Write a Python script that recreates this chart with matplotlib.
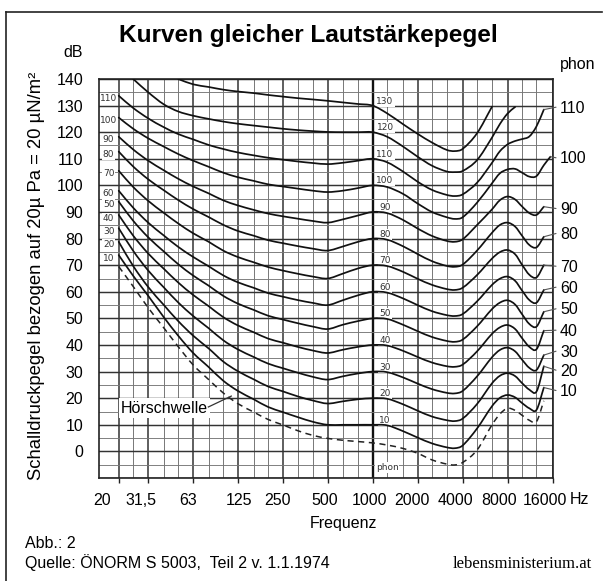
import numpy as np
import matplotlib
matplotlib.use("Agg")
import matplotlib.pyplot as plt
from matplotlib.transforms import Affine2D, ScaledTranslation
from matplotlib.lines import Line2D
from matplotlib.path import Path
from matplotlib.patches import PathPatch
from matplotlib.ticker import NullLocator, NullFormatter

plt.rcParams['font.family'] = ['Liberation Sans', 'DejaVu Sans']

nan = np.nan

# ---------------- data ----------------
FREQ_HZ = [20, 25, 31.5, 40, 50, 63, 80, 100, 125, 160, 200, 250, 315, 400, 500,
           630, 800, 1000, 1250, 1600, 2000, 2500, 3150, 3550, 4000, 5000, 6300, 7100,
           8000, 9000, 10000, 11200, 12500, 14000, 15500]

PHON_LEVELS = [130, 120, 110, 100, 90, 80, 70, 60, 50, 40, 30, 20, 10]

SPL_130 = [nan, nan, nan, nan, 140, 138, 137, 136, 135.3, 134.7, 134, 133.4, 132.8, 132.3, 131.8,
           131.2, 130.6, 130, 127.1, 123, 119.4, 116.1, 113.3, 112.9, 113.7, 119.6, 129.6, nan,
           nan, nan, nan, nan, nan, nan, nan]
SPL_120 = [nan, 140, 135, 130.5, 127.8, 126.2, 125, 124, 123.2, 122.5, 121.9, 121.3, 120.8, 120.4, 120.1,
           120, 120, 120, 118.3, 114.6, 110.8, 107.4, 105.2, 105, 105.4, 109.5, 118, 123,
           127, 129.5, nan, nan, nan, nan, nan]
SPL_110 = [133.7, 129.1, 125.2, 121.9, 119.3, 117.3, 115.2, 113.7, 112.4, 111.3, 110.4, 109.7, 109, 108.4, 108,
           108.5, 109.3, 110, 108.7, 105.2, 101.4, 98.3, 96.4, 96, 96.6, 101, 108.5, 112.8,
           115.4, 116.7, 117.4, 118.4, 122.2, 128.5, nan]
SPL_100 = [125.5, 121.3, 117.7, 114.6, 111.8, 109.3, 107, 104.8, 103.1, 101.7, 100.4, 99.6, 98.8, 98, 97.5,
           98, 99, 100, 99.4, 96.8, 93.2, 90, 88, 87.4, 88, 93.5, 100.8, 104.5,
           106, 106.2, 104.8, 103.3, 103.5, 107.6, 110.8]
SPL_90 = [118.3, 113.5, 109.3, 105.7, 102.5, 99.6, 97, 94.4, 92.5, 90.8, 89.4, 88.4, 87.5, 86.6, 86,
          87.2, 88.7, 90, 89.6, 87, 83.8, 81, 79.1, 78.8, 79.7, 85.1, 91, 94.4,
          95.8, 94.7, 92.1, 89.6, 88.9, 92, nan]
SPL_80 = [112.7, 107.1, 102.3, 98.2, 94.5, 91.1, 88.1, 85.2, 82.9, 81.1, 79.4, 78.3, 77.2, 76.2, 75.5,
          77, 78.8, 80, 79.6, 77.1, 74.2, 71.5, 69.7, 69.4, 70.2, 75.5, 82.2, 85.1,
          86, 84.5, 81.1, 77.6, 76.7, 80.7, nan]
SPL_70 = [105.5, 99.4, 94.2, 89.7, 85.7, 82, 78.8, 75.5, 73.1, 71.1, 69.3, 68, 66.8, 65.7, 65,
          66.8, 68.8, 70, 69.7, 67.5, 64.9, 62.6, 61, 60.7, 61.5, 66.3, 72.5, 74.9,
          75.7, 74.1, 70.2, 66.4, 65.4, 70, nan]
SPL_60 = [98, 91.6, 86, 81.2, 76.9, 73.1, 69.6, 66.2, 63.6, 61.5, 59.5, 58.2, 56.9, 55.8, 55,
          56.8, 58.7, 60, 59.7, 57.5, 55, 52.7, 51.2, 50.9, 51.6, 56.4, 62.6, 64.9,
          65.7, 64.1, 60.5, 56.9, 55.9, 60.7, nan]
SPL_50 = [93.9, 86.7, 80.5, 75.2, 70.4, 66.1, 62.3, 58.5, 55.6, 53.2, 51, 49.6, 48.2, 46.9, 46,
          47.6, 49, 50, 49.8, 47.6, 45.2, 43, 41.5, 41.2, 42, 47, 53.5, 55.9,
          56.8, 55.2, 51.6, 47.9, 46.9, 52.5, nan]
SPL_40 = [88.9, 81.1, 74.4, 68.7, 63.5, 58.8, 54.6, 50.5, 47.4, 44.8, 42.4, 40.9, 39.3, 37.9, 37,
          38.2, 39.3, 40, 39.8, 37.8, 35.5, 33.4, 32, 31.8, 32.6, 37.6, 44.2, 46.6,
          47.5, 46, 42.6, 39.3, 38.4, 45.4, nan]
SPL_30 = [83.9, 75.4, 68, 61.7, 56, 50.9, 46.3, 41.8, 38.4, 35.5, 33, 31.3, 29.6, 28, 27,
          28.2, 29.3, 30, 29.8, 27.8, 25.5, 23.4, 22, 21.8, 22.7, 28.2, 35.4, 38.1,
          39, 37.6, 34.5, 31.4, 30.6, 36.2, nan]
SPL_20 = [78.8, 69.7, 61.8, 55.1, 49, 43.5, 38.7, 33.8, 30.2, 27.1, 24.4, 22.6, 20.7, 19.1, 18,
          18.8, 19.6, 20, 19.8, 17.7, 15.3, 13.1, 11.7, 11.4, 12.3, 17.8, 25.6, 28.4,
          29.4, 28.3, 25.7, 23.2, 22.5, 32, nan]
SPL_10 = [73.8, 66, 58.5, 50.5, 43.5, 37, 31.7, 26.6, 22.8, 19.6, 16.7, 14.8, 12.9, 11.1, 10,
          10, 10, 10, 9.8, 7.6, 5.2, 3, 1.5, 1.2, 2.2, 8.6, 17, 20.1,
          21.2, 20.3, 18.2, 16.2, 15.6, 24, nan]
THRESHOLD = [69.5, 62, 54, 46.5, 39.4, 32.5, 27, 22, 18, 14.8, 12, 10, 7.8, 6, 4.9,
             4.2, 3.7, 3.2, 2.4, 1.1, -0.7, -3.2, -4.8, -5.1, -4.2, 0.5, 10, 14,
             16.2, 15.4, 13.6, 11.7, 11.2, 19, nan]

CURVES = [SPL_130, SPL_120, SPL_110, SPL_100, SPL_90, SPL_80, SPL_70,
          SPL_60, SPL_50, SPL_40, SPL_30, SPL_20, SPL_10]

X_TICKS = [20, 31.5, 63, 125, 250, 500, 1000, 2000, 4000, 8000, 16000]
X_TICK_LABELS = ['20', '31,5', '63', '125', '250', '500', '1000', '2000', '4000', '8000', '16000']
Y_TICKS = [0, 10, 20, 30, 40, 50, 60, 70, 80, 90, 100, 110, 120, 130, 140]
GRID_FREQS = [20, 25, 31.5, 40, 50, 63, 80, 100, 125, 160, 200, 250, 315, 400, 500, 630, 800,
              1000, 1250, 1600, 2000, 2500, 3150, 4000, 5000, 6300, 8000, 10000, 12500, 16000]
RIGHT_LABELS = [110, 100, 90, 80, 70, 60, 50, 40, 30, 20, 10]


def smooth_path(freqs, values):
    """Cubic (Hermite/Bezier) path through the read points, built in
    log-frequency space and drawn by matplotlib's Path."""
    f = np.asarray(freqs, float)
    v = np.asarray(values, float)
    ok = np.isfinite(v)
    u, y = np.log10(f[ok]), v[ok]
    n = len(u)
    m = np.zeros(n)
    for i in range(n):
        if i == 0:
            m[i] = (y[1] - y[0]) / (u[1] - u[0])
        elif i == n - 1:
            m[i] = (y[-1] - y[-2]) / (u[-1] - u[-2])
        else:
            m[i] = (y[i + 1] - y[i - 1]) / (u[i + 1] - u[i - 1])
    verts = [(u[0], y[0])]
    codes = [Path.MOVETO]
    for i in range(n - 1):
        h = u[i + 1] - u[i]
        verts += [(u[i] + h / 3, y[i] + m[i] * h / 3),
                  (u[i + 1] - h / 3, y[i + 1] - m[i + 1] * h / 3),
                  (u[i + 1], y[i + 1])]
        codes += [Path.CURVE4] * 3
    verts = np.array(verts)
    verts[:, 0] = 10 ** verts[:, 0]
    return Path(verts, codes)


# ---------------- layout ----------------
W, H, DPI = 603, 581, 100
fig = plt.figure(figsize=(W / DPI, H / DPI), dpi=DPI)
fig.patch.set_facecolor('white')
px = Affine2D().scale(1.0 / W, -1.0 / H).translate(0, 1) + fig.transFigure

L, R, T, B = 99, 552.5, 79, 478
ax = fig.add_axes([L / W, 1 - B / H, (R - L) / W, (B - T) / H])
ax.set_xscale('log')
ax.set_xlim(14.76, 16000)
ax.set_ylim(-10, 140)

# grid
for f in GRID_FREQS:
    if f == 1000:
        lw, col = 1.7, '#111111'
    elif f in X_TICKS:
        lw, col = 1.1, '#333333'
    else:
        lw, col = 0.65, '#6e6e6e'
    ax.axvline(f, color=col, lw=lw, zorder=1)
for v in range(-10, 141, 5):
    if v % 10 == 0:
        ax.axhline(v, color='#333333', lw=1.05, zorder=1)
    else:
        ax.axhline(v, color='#777777', lw=0.65, zorder=1)

for s in ax.spines.values():
    s.set_linewidth(1.2)
    s.set_color('#222222')

ax.set_xticks(X_TICKS)
ax.set_xticklabels(X_TICK_LABELS)
ax.xaxis.set_minor_locator(NullLocator())
ax.xaxis.set_minor_formatter(NullFormatter())
ax.set_yticks(Y_TICKS)
ax.set_yticklabels([str(v) for v in Y_TICKS])
ax.tick_params(axis='x', which='major', length=3.6, width=1.0, pad=7, labelsize=11.5,
               direction='out', color='#222222')
ax.tick_params(axis='y', which='major', length=0, pad=11.5, labelsize=11.5)

X_LABEL_SHIFT_PX = [-16.5, -7, -5, 1.5, -5.5, -2.5, -3.5, -5.5, -7.5, -8.5, -7.5]
for lab, dx in zip(ax.get_xticklabels(), X_LABEL_SHIFT_PX):
    lab.set_transform(lab.get_transform() + ScaledTranslation(dx / DPI, 0, fig.dpi_scale_trans))

# curves
for lvl, spl in zip(PHON_LEVELS, CURVES):
    ax.add_patch(PathPatch(smooth_path(FREQ_HZ, spl), fill=False, edgecolor='#111111',
                           lw=1.25, zorder=3, capstyle='round', joinstyle='round'))
ax.add_patch(PathPatch(smooth_path(FREQ_HZ, THRESHOLD), fill=False, edgecolor='#222222',
                       lw=1.1, ls=(0, (4, 3)), zorder=3))

small = dict(fontsize=6.5, family='DejaVu Sans', color='#333333', ha='center', va='center',
             zorder=2, bbox=dict(facecolor='white', edgecolor='none', pad=0.7))
# labels right of the 1000 Hz line
for lvl in PHON_LEVELS:
    ax.text(1212, lvl + 1.7, str(lvl), **small)
ax.text(1250, -6.1, 'phon', **small)
# labels at the left edge
for lvl, spl in zip(PHON_LEVELS, CURVES):
    if lvl <= 110:
        ax.text(17.1, spl[0] - 1.2, str(lvl), **small)

# Hörschwelle
ax.text(40.3, 16.3, 'Hörschwelle', fontsize=11.5, ha='center', va='center', zorder=4,
        bbox=dict(facecolor='white', edgecolor='none', pad=1.5))
ax.plot([79.6, 113.4], [16.7, 20.8], color='#333333', lw=0.9, zorder=4)

# right-hand phon labels with leaders
RIGHT_BASE_Y = [112.7, 163.3, 214, 239, 271.7, 292.7, 314.3, 335.7, 356.7, 375.7, 396]
for lvl, yb in zip(RIGHT_LABELS, RIGHT_BASE_Y):
    fig.text(560, yb, str(lvl), transform=px, fontsize=11.5, ha='left', va='baseline')
    spl = CURVES[PHON_LEVELS.index(lvl)]
    idx = 34 if lvl == 100 else 33
    ax.annotate('', xy=(FREQ_HZ[idx], spl[idx]), xycoords='data',
                xytext=(556, yb - 5.5), textcoords=px,
                arrowprops=dict(arrowstyle='-', color='#555555', lw=0.8,
                                shrinkA=0, shrinkB=0), annotation_clip=False)

# ---------------- texts ----------------
fig.text(308.5, 41.7, 'Kurven gleicher Lautstärkepegel', transform=px, fontsize=17.6,
         fontweight='bold', ha='center', va='baseline')
fig.text(83, 56.7, 'dB', transform=px, fontsize=11.5, ha='right', va='baseline')
fig.text(560, 69, 'phon', transform=px, fontsize=11.5, ha='left', va='baseline')
fig.text(36.5, 276, 'Schalldruckpegel bezogen auf 20µ Pa = 20 µN/m²', transform=px,
         fontsize=13.3, rotation=90, ha='center', va='center')
fig.text(570, 504, 'Hz', transform=px, fontsize=11.5, ha='left', va='baseline')
fig.text(310, 528, 'Frequenz', transform=px, fontsize=11.5, ha='left', va='baseline')
fig.text(25, 548, 'Abb.: 2', transform=px, fontsize=11.5, ha='left', va='baseline')
fig.text(25, 568.3, 'Quelle: ÖNORM S 5003,  Teil 2 v. 1.1.1974', transform=px,
         fontsize=11.5, ha='left', va='baseline')
fig.text(592, 568.3, 'lebensministerium.at', transform=px, fontsize=12,
         family=['Liberation Serif', 'DejaVu Serif'], ha='right', va='baseline')

# outer frame
fig.add_artist(Line2D([6, 6], [12, 590], transform=px, color='#222222', lw=1.2))
fig.add_artist(Line2D([6, 602], [12, 12], transform=px, color='#222222', lw=1.2))

fig.savefig('out.png', dpi=DPI, facecolor='white')
